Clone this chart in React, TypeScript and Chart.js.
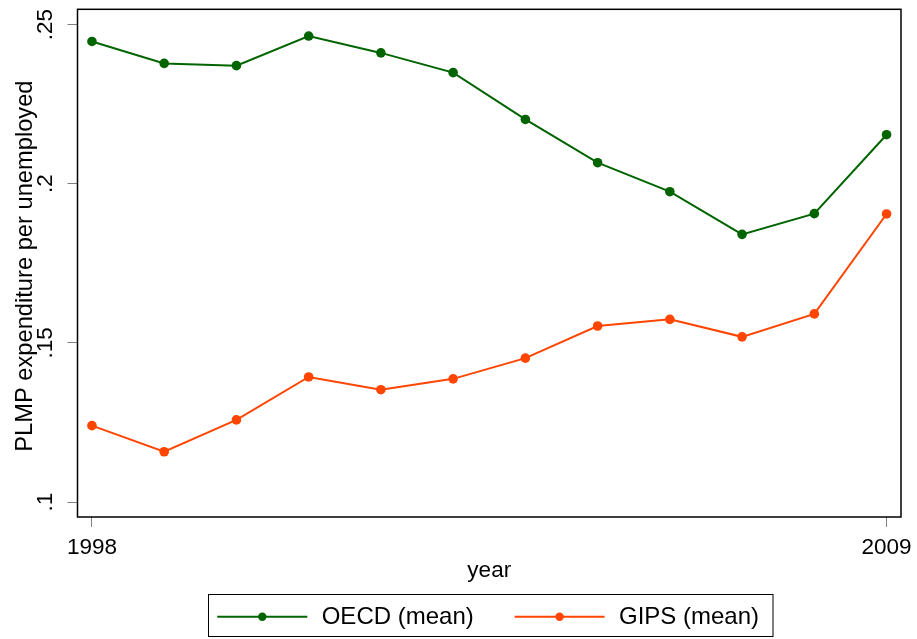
import React, { useEffect, useRef } from "react";
import { Chart, registerables } from "chart.js";

Chart.register(...registerables);

const years = [1998, 1999, 2000, 2001, 2002, 2003, 2004, 2005, 2006, 2007, 2008, 2009];
const oecdMean = [0.2447, 0.2378, 0.2371, 0.2464, 0.2411, 0.2349, 0.2202, 0.2066, 0.1975, 0.1841, 0.1906, 0.2154];
const gipsMean = [0.1240, 0.1158, 0.1258, 0.1393, 0.1353, 0.1387, 0.1452, 0.1553, 0.1574, 0.1519, 0.1591, 0.1905];
const xTickValues = [1998, 2009];
const yTickValues = [0.1, 0.15, 0.2, 0.25];
const yTickLabels = [".1", ".15", ".2", ".25"];
const seriesLabels = ["OECD (mean)", "GIPS (mean)"];
const seriesColors = ["#006400", "#FF4500"];
const xTitle = "year";
const yTitle = "PLMP expenditure per unemployed";

const FONT = "'Liberation Sans', Arial, Helvetica, sans-serif";

const decorPlugin = {
  id: "stataDecor",
  afterDraw(chart: any) {
    const ctx = chart.ctx as CanvasRenderingContext2D;
    const { left, right, top, bottom } = chart.chartArea;
    const xs = chart.scales.x;
    const ys = chart.scales.y;
    ctx.save();
    // plot box
    ctx.strokeStyle = "#000";
    ctx.lineWidth = 1.5;
    ctx.strokeRect(left, top, right - left, bottom - top);

    ctx.fillStyle = "#000";
    // y tick labels (rotated)
    ctx.font = `22.5px ${FONT}`;
    ctx.textAlign = "center";
    ctx.textBaseline = "alphabetic";
    yTickValues.forEach((v, i) => {
      const py = ys.getPixelForValue(v);
      ctx.save();
      ctx.translate(52, py);
      ctx.rotate(-Math.PI / 2);
      ctx.fillText(yTickLabels[i], 0, 0);
      ctx.restore();
    });
    // y title
    ctx.font = `23.7px ${FONT}`;
    ctx.save();
    ctx.translate(32, (top + bottom) / 2 + 3);
    ctx.rotate(-Math.PI / 2);
    ctx.fillText(yTitle, 0, 0);
    ctx.restore();

    // x tick labels
    ctx.font = `22.5px ${FONT}`;
    xTickValues.forEach((v) => {
      ctx.fillText(String(v), xs.getPixelForValue(v), 554.3);
    });
    // x title
    ctx.fillText(xTitle, (left + right) / 2, 576.7);

    // legend
    ctx.lineWidth = 1;
    ctx.strokeStyle = "#000";
    ctx.strokeRect(208.5, 594.5, 564.5, 42);
    const items = [
      { x0: 217.3, x1: 307.3, tx: 321.7 },
      { x0: 514.6, x1: 604.6, tx: 619 },
    ];
    const ly = 616.7;
    ctx.font = `24px ${FONT}`;
    ctx.textAlign = "left";
    items.forEach((it, i) => {
      ctx.strokeStyle = seriesColors[i];
      ctx.lineWidth = 2;
      ctx.beginPath();
      ctx.moveTo(it.x0, ly);
      ctx.lineTo(it.x1, ly);
      ctx.stroke();
      ctx.fillStyle = seriesColors[i];
      ctx.beginPath();
      ctx.arc((it.x0 + it.x1) / 2, ly, 4.2, 0, Math.PI * 2);
      ctx.fill();
      ctx.fillStyle = "#000";
      ctx.fillText(seriesLabels[i], it.tx, 623.8);
    });
    ctx.restore();
  },
};

export default function App() {
  const ref = useRef<HTMLCanvasElement | null>(null);
  useEffect(() => {
    document.body.style.margin = "0";
    const canvas = ref.current;
    if (!canvas) return;
    const mk = (vals: number[]) => years.map((yr, i) => ({ x: yr, y: vals[i] }));
    const chart = new Chart(canvas, {
      type: "line",
      data: {
        datasets: [
          {
            label: seriesLabels[0],
            data: mk(oecdMean),
            borderColor: seriesColors[0],
            backgroundColor: seriesColors[0],
            pointBackgroundColor: seriesColors[0],
            pointBorderWidth: 0,
            pointRadius: 4.8,
            borderWidth: 2,
            tension: 0,
          },
          {
            label: seriesLabels[1],
            data: mk(gipsMean),
            borderColor: seriesColors[1],
            backgroundColor: seriesColors[1],
            pointBackgroundColor: seriesColors[1],
            pointBorderWidth: 0,
            pointRadius: 4.8,
            borderWidth: 2,
            tension: 0,
          },
        ],
      },
      options: {
        responsive: false,
        animation: false,
        devicePixelRatio: 1,
        layout: { padding: { top: 9.3, right: 16, left: 0, bottom: 0 } },
        plugins: { legend: { display: false }, tooltip: { enabled: false } },
        scales: {
          x: {
            type: "linear",
            min: 1997.8,
            max: 2009.2,
            border: { display: false },
            grid: { drawOnChartArea: false, drawTicks: true, tickLength: 10, color: "#808080", lineWidth: 1 },
            ticks: { display: false },
            afterBuildTicks: (s: any) => {
              s.ticks = xTickValues.map((v) => ({ value: v }));
            },
            afterFit: (s: any) => {
              s.height = 122;
            },
          },
          y: {
            type: "linear",
            min: 0.0953,
            max: 0.2548,
            border: { display: false },
            grid: { drawOnChartArea: false, drawTicks: true, tickLength: 10, color: "#808080", lineWidth: 1 },
            ticks: { display: false },
            afterBuildTicks: (s: any) => {
              s.ticks = yTickValues.map((v) => ({ value: v }));
            },
            afterFit: (s: any) => {
              s.width = 77.5;
            },
          },
        },
      },
      plugins: [decorPlugin],
    });
    return () => chart.destroy();
  }, []);
  return (
    <div style={{ position: "fixed", left: 0, top: 0, width: 917, height: 639, background: "#fff" }}>
      <canvas ref={ref} width={917} height={639} style={{ width: 917, height: 639, display: "block" }} />
    </div>
  );
}
